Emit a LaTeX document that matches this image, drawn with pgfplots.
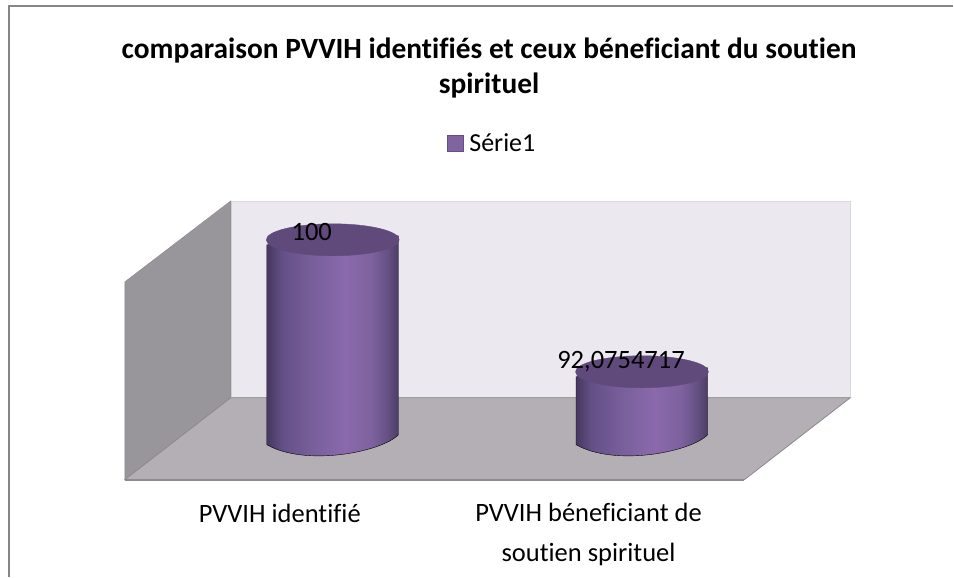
\documentclass[border=0pt]{standalone}
\usepackage{fontspec}
\setmainfont[Ligatures=NoCommon]{Carlito}
\usepackage{pgfplots}
\pgfplotsset{compat=1.18}
\definecolor{wallback}{RGB}{235,232,240}
\definecolor{wallleft}{RGB}{152,150,155}
\definecolor{floorc}{RGB}{180,175,180}
\definecolor{edgec}{RGB}{140,138,140}
\definecolor{framec}{RGB}{134,134,134}
\definecolor{captop}{RGB}{96,74,123}
\definecolor{legc}{RGB}{128,100,162}
\definecolor{legb}{RGB}{100,78,130}
\definecolor{cylA}{RGB}{70,56,96}
\definecolor{cylB}{RGB}{100,80,135}
\definecolor{cylC}{RGB}{120,95,155}
\definecolor{cylD}{RGB}{138,105,172}
\definecolor{cylE}{RGB}{125,97,158}
\definecolor{cylF}{RGB}{100,80,130}
\definecolor{cylG}{RGB}{76,60,102}
\pgfdeclarehorizontalshading{cylshade}{100bp}{
  color(0bp)=(cylA);
  color(25bp)=(cylA);
  color(31bp)=(cylB);
  color(42bp)=(cylC);
  color(55bp)=(cylD);
  color(65bp)=(cylE);
  color(71bp)=(cylF);
  color(75bp)=(cylG);
  color(100bp)=(cylG)}
% cylinder, origin on the centre of its top; height comes from the value (ymin 88, 16.667pt per unit)
\pgfdeclareplotmark{cyl}{%
  \pgfmathsetmacro\hh{(\val-88)*16.667}%
  \shade[shading=cylshade]
    (-66pt,-5pt) -- (65.8pt,4pt)
    -- (65.8pt,{(5-\hh)*1pt}) .. controls (48pt,{(-13-\hh)*1pt}) and (-28pt,{(-27-\hh)*1pt}) .. (-66pt,{(-5-\hh)*1pt}) -- cycle;
  \fill[captop,rotate=4.3] (0pt,0pt) ellipse[x radius=66.5pt,y radius=16pt];
}
\begin{document}
\begin{tikzpicture}
% decoration, in picture pixels
\begin{axis}[
    at={(0,0)}, anchor=south west, scale only axis,
    width=954pt, height=577pt,
    xmin=0, xmax=954, ymin=0, ymax=577, y dir=reverse,
    hide axis, clip=false,
]
\addplot[fill=white, draw=none] coordinates {(0,0)(954,0)(954,577)(0,577)} --cycle;
\addplot[draw=framec, line width=1.5pt] coordinates {(9,577)(9,6)(954,6)};
\addplot[fill=wallback, draw=gray!30, line width=.4pt] coordinates {(231,201)(851,201)(851,398)(231,398)} --cycle;
\addplot[fill=wallleft, draw=edgec, line width=.4pt] coordinates {(125,282)(231,201)(231,398)(125,480)} --cycle;
\addplot[fill=floorc, draw=edgec, line width=.8pt] coordinates {(125,480)(231,398)(851,398)(745,480)} --cycle;
\addplot[draw=edgec, line width=1.6pt] coordinates {(125,481)(745,481)};
\node[font=\bfseries\fontsize{29.4}{35}\selectfont, align=center] at (axis cs:489.5,68)
  {comparaison PVVIH identifiés et ceux béneficiant du soutien\\spirituel};
\node[font=\fontsize{26.5}{40}\selectfont] at (axis cs:280,514) {PVVIH identifié};
\node[font=\fontsize{26.5}{40}\selectfont, align=center] at (axis cs:589,535)
  {PVVIH béneficiant de\\soutien spirituel};
\end{axis}
% data: categories at 0,1; y scale so that 88 is the floor
\begin{axis}[
    at={(0,0)}, anchor=south west, scale only axis,
    width=954pt, height=577pt,
    xmin=-1.0759, xmax=2.0065,
    ymin=79.78, ymax=114.4,
    hide axis, clip=false,
    legend style={at={(axis cs:0.515,105.8)}, anchor=center, draw=none, fill=none,
      font=\fontsize{26}{31}\selectfont, inner sep=0pt},
    legend image code/.code={\fill[legc,draw=legb,line width=1pt] (0pt,-8pt) rectangle (16pt,8pt);
      \path (20pt,0pt);},
]
\addplot[
    only marks, mark=cyl,
    scatter, scatter src=explicit symbolic,
    visualization depends on={rawy \as \val},
    visualization depends on={\coordindex \as \idx},
    nodes near coords,
    every node near coord/.style={font=\fontsize{26.5}{31}\selectfont, anchor=center, text=black,
      xshift=-21pt, yshift={ifthenelse(\idx==0,8,10)*1pt}},
] coordinates {
    (0,100) [100]
    (1,92.0754717) [{92,0754717}]
};
\addlegendentry{Série1}
\end{axis}
\end{tikzpicture}
\end{document}
